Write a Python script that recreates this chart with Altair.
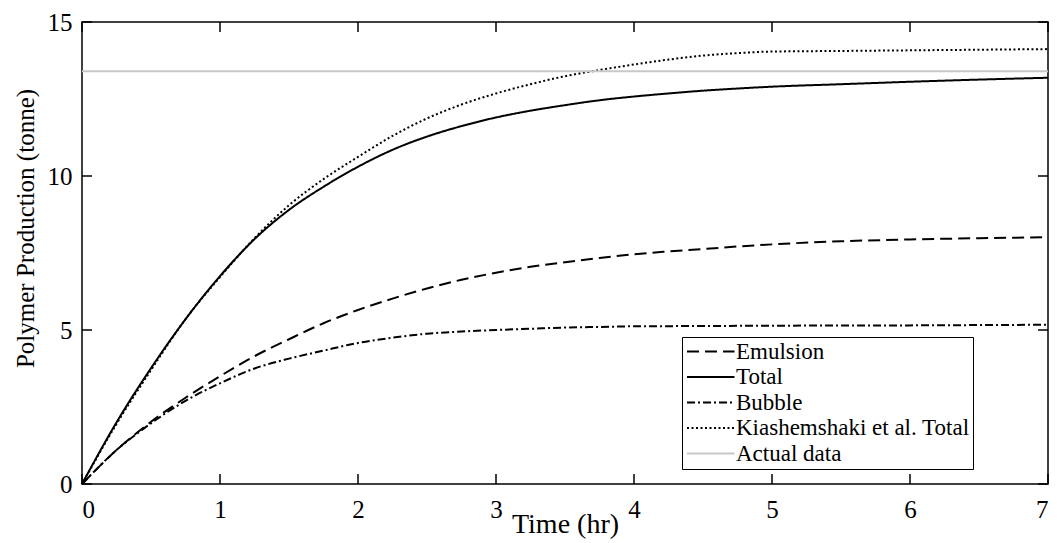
import altair as alt
import pandas as pd

# ---- data ----
series_order = ["Emulsion", "Total", "Bubble", "Kiashemshaki et al. Total", "Actual data"]

t_fine = [0, 0.25, 0.5, 0.75, 1, 1.25, 1.5, 1.75, 2, 2.25, 2.5, 2.75, 3, 3.25, 3.5, 3.75,
          4, 4.25, 4.5, 4.75, 5, 5.5, 6, 6.5, 7]

emulsion = [0, 1.1, 2.02, 2.8, 3.5, 4.15, 4.7, 5.22, 5.65, 6.02, 6.35, 6.63, 6.86, 7.05, 7.2, 7.34,
            7.46, 7.55, 7.63, 7.71, 7.78, 7.88, 7.94, 7.98, 8.01]
total = [0, 2.0, 3.76, 5.35, 6.75, 7.95, 8.9, 9.65, 10.3, 10.85, 11.28, 11.62, 11.9, 12.12, 12.3, 12.46,
         12.58, 12.68, 12.77, 12.84, 12.9, 12.98, 13.06, 13.13, 13.19]
bubble = [0, 1.1, 1.97, 2.7, 3.27, 3.75, 4.07, 4.33, 4.58, 4.75, 4.88, 4.95, 5.0, 5.04, 5.08, 5.1,
          5.12, 5.125, 5.13, 5.135, 5.14, 5.145, 5.15, 5.16, 5.17]
kiashemshaki = [0, 1.95, 3.7, 5.35, 6.72, 7.98, 9.05, 9.9, 10.62, 11.3, 11.87, 12.32, 12.68, 12.98, 13.24, 13.44,
                13.62, 13.78, 13.91, 13.99, 14.04, 14.06, 14.08, 14.1, 14.12]
actual_t = [0, 7]
actual_v = [13.4, 13.4]

x_ticks = [0, 1, 2, 3, 4, 5, 6, 7]
y_ticks = [0, 5, 10, 15]

# ---- build tables ----
rows = []
for name, vals in [("Emulsion", emulsion), ("Total", total), ("Bubble", bubble),
                   ("Kiashemshaki et al. Total", kiashemshaki)]:
    for t, v in zip(t_fine, vals):
        rows.append({"t": t, "v": v, "series": name})
for t, v in zip(actual_t, actual_v):
    rows.append({"t": t, "v": v, "series": "Actual data"})
df = pd.DataFrame(rows)
xt = pd.DataFrame({"t": x_ticks})
yt = pd.DataFrame({"v": y_ticks})

W, H = 966, 462
TL = 10
FONT = "Liberation Serif, Times New Roman, Times, serif"

xscale = alt.Scale(domain=[0, 7], nice=False, zero=False)
yscale = alt.Scale(domain=[0, 15], nice=False, zero=False)
xaxis = alt.Axis(title="Time (hr)", values=x_ticks, labelPadding=13, titleY=26,
                 titleBaseline="top", titleFontSize=28, titleFontWeight="normal")
yaxis = alt.Axis(title="Polymer Production (tonne)", values=y_ticks, labelPadding=10,
                 titleX=-57, titleY=206, titleAngle=-90, titleBaseline="middle", titleAlign="center",
                 titleFontSize=25, titleFontWeight="normal")

legend = alt.Legend(title=None, orient="none", legendX=600, legendY=315,
                    fillColor="white", strokeColor="black", cornerRadius=0, padding=3,
                    labelFont=FONT, labelFontSize=23, labelColor="black", labelOffset=28,
                    rowPadding=1.5, symbolType="M-1,0H4", symbolSize=361, labelLimit=400)

lines = alt.Chart(df).mark_line(interpolate="monotone").encode(
    x=alt.X("t:Q", scale=xscale, axis=xaxis),
    y=alt.Y("v:Q", scale=yscale, axis=yaxis),
    color=alt.Color("series:N", sort=series_order,
                    scale=alt.Scale(domain=series_order,
                                    range=["black", "black", "black", "black", "#c8c8c8"]),
                    legend=legend),
    strokeDash=alt.StrokeDash("series:N", sort=series_order,
                              scale=alt.Scale(domain=series_order,
                                              range=[[12, 6], [1, 0], [8, 3, 2, 3], [2, 2.5], [1, 0]]),
                              legend=legend),
    strokeWidth=alt.StrokeWidth("series:N", sort=series_order,
                                scale=alt.Scale(domain=series_order, range=[2, 2, 2, 1.6, 1.6]),
                                legend=legend),
    order=alt.Order("t:Q"),
)

xtick_bottom = alt.Chart(xt).mark_rule(color="black", strokeWidth=1.5).encode(
    x=alt.X("t:Q", scale=xscale, axis=xaxis), y=alt.value(H), y2=alt.value(H - TL))
xtick_top = alt.Chart(xt).mark_rule(color="black", strokeWidth=1.5).encode(
    x=alt.X("t:Q", scale=xscale, axis=xaxis), y=alt.value(0), y2=alt.value(TL))
ytick_left = alt.Chart(yt).mark_rule(color="black", strokeWidth=1.5).encode(
    y=alt.Y("v:Q", scale=yscale, axis=yaxis), x=alt.value(0), x2=alt.value(TL))
ytick_right = alt.Chart(yt).mark_rule(color="black", strokeWidth=1.5).encode(
    y=alt.Y("v:Q", scale=yscale, axis=yaxis), x=alt.value(W), x2=alt.value(W - TL))

chart = alt.layer(lines, xtick_bottom, xtick_top, ytick_left, ytick_right).properties(
    width=W, height=H,
    autosize=alt.AutoSizeParams(type="none"),
    padding={"left": 82, "top": 22, "right": 9, "bottom": 59},
    background="white",
).configure_view(
    stroke="black", strokeWidth=1.5
).configure_axis(
    domain=False, ticks=False, grid=False,
    labelFont=FONT, labelFontSize=25, labelColor="black",
    titleFont=FONT, titleColor="black",
)

chart.save("out.html", embed_options={"renderer": "svg", "actions": False})
